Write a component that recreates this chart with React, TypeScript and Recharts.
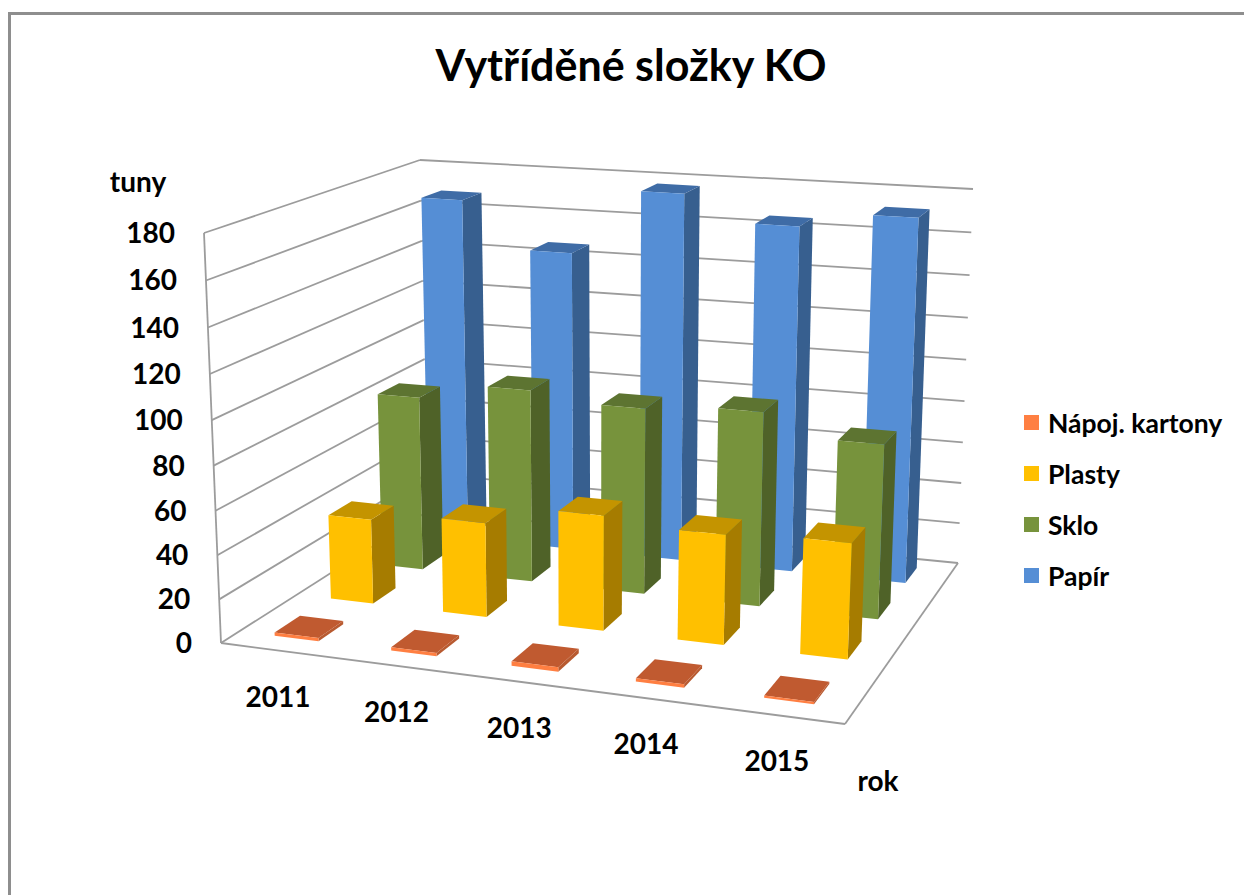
import { BarChart, Bar, XAxis, YAxis, Legend } from "recharts";

const YEARS = ["2011", "2012", "2013", "2014", "2015"];
const PAPIR = [168, 146, 177, 165, 172];
const SKLO = [84, 92, 88, 91, 81];
const PLASTY = [40, 44, 53, 50, 52];
const KARTONY = [1.5, 1.5, 2, 1.5, 1];
const Y_TICKS = [0, 20, 40, 60, 80, 100, 120, 140, 160, 180];
const Y_MAX = 180;

const FONT = "Lato, sans-serif";
const WIDTH = 1244;
const HEIGHT = 895;
const MARGIN = { top: 40, right: 40, bottom: 39, left: 39 };
const PLOT_X = 40;
const PLOT_W = WIDTH - 80;
const PLOT_H = HEIGHT - 80;
const BAR_W = (PLOT_W / YEARS.length) * 0.38;

type Pt = [number, number];

// corners of the floor and of the top plane as seen in the picture
const FLOOR: Pt[] = [[221, 643], [845, 724], [958, 563], [428, 511]];
const ROOF: Pt[] = [[204, 233], [862, 279], [973, 189], [420, 160]];

// maps the unit square onto a four sided shape
function quadMap(q: Pt[]) {
  const [a, b, c, d] = q;
  const den = (b[0] - c[0]) * (d[1] - c[1]) - (d[0] - c[0]) * (b[1] - c[1]);
  const sx = a[0] - b[0] + c[0] - d[0];
  const sy = a[1] - b[1] + c[1] - d[1];
  const g = (sx * (d[1] - c[1]) - (d[0] - c[0]) * sy) / den;
  const h = ((b[0] - c[0]) * sy - sx * (b[1] - c[1])) / den;
  return (u: number, v: number): Pt => {
    const w = g * u + h * v + 1;
    return [
      ((b[0] - a[0] + g * b[0]) * u + (d[0] - a[0] + h * d[0]) * v + a[0]) / w,
      ((b[1] - a[1] + g * b[1]) * u + (d[1] - a[1] + h * d[1]) * v + a[1]) / w,
    ];
  };
}

const floorAt = quadMap(FLOOR);
const roofAt = quadMap(ROOF);

// u along the years, d towards the back wall, h up the value axis (all 0..1)
function project(u: number, d: number, h: number): Pt {
  const uw = u + 0.04 * u * (1 - u);
  const hw = h - 0.048 * h * (1 - h);
  const p = floorAt(uw, d);
  const q = roofAt(uw, d);
  return [p[0] + (q[0] - p[0]) * hw, p[1] + (q[1] - p[1]) * hw];
}

const pts = (list: Pt[]) => list.map((p) => p.join(",")).join(" ");

function makeBar(d0: number, d1: number, side: string, top: string) {
  return (props: any) => {
    const { x, width, height, fill } = props;
    const u0 = (x - PLOT_X) / PLOT_W;
    const u1 = (x + width - PLOT_X) / PLOT_W;
    const h = height / PLOT_H;
    return (
      <g>
        <polygon
          points={pts([project(u1, d0, 0), project(u1, d1, 0), project(u1, d1, h), project(u1, d0, h)])}
          fill={side}
        />
        <polygon
          points={pts([project(u0, d0, h), project(u1, d0, h), project(u1, d1, h), project(u0, d1, h)])}
          fill={top}
        />
        <polygon
          points={pts([project(u0, d0, 0), project(u1, d0, 0), project(u1, d0, h), project(u0, d0, h)])}
          fill={fill}
        />
      </g>
    );
  };
}

function Walls() {
  const stroke = "#9c9c9c";
  const line = (p: Pt, q: Pt, key: string) => (
    <line key={key} x1={p[0]} y1={p[1]} x2={q[0]} y2={q[1]} stroke={stroke} strokeWidth={1.8} />
  );
  return (
    <g>
      {Y_TICKS.map((t) => {
        const h = t / Y_MAX;
        return (
          <g key={t}>
            {line(project(0, 0, h), project(0, 1, h), "l")}
            {line(project(0, 1, h), project(1, 1, h), "b")}
          </g>
        );
      })}
      {line(project(0, 0, 0), project(0, 0, 1), "edge")}
      {line(project(0, 0, 0), project(1, 0, 0), "front")}
      {line(project(1, 0, 0), project(1, 1, 0), "right")}
    </g>
  );
}

function YTick({ payload }: any) {
  const [px, py] = project(0, 0, payload.value / Y_MAX);
  return (
    <text x={px - 29} y={py + 10} textAnchor="end" fontFamily={FONT} fontWeight={700} fontSize={28} fill="#000">
      {payload.value}
    </text>
  );
}

function XTick({ payload, index }: any) {
  const [px, py] = project((index + 0.5) / YEARS.length, 0, 0);
  return (
    <text x={px - 1} y={py + 56} textAnchor="middle" fontFamily={FONT} fontWeight={700} fontSize={28} fill="#000">
      {payload.value}
    </text>
  );
}

function LegendBox({ payload }: any) {
  const items = [...(payload || [])].reverse();
  return (
    <div>
      {items.map((it: any) => (
        <div key={it.value} style={{ display: "flex", alignItems: "center", height: 51, fontFamily: FONT, fontWeight: 700, fontSize: 26.5, color: "#000", whiteSpace: "nowrap" }}>
          <span style={{ width: 15, height: 15, background: it.color, marginRight: 9 }} />
          {it.value}
        </div>
      ))}
    </div>
  );
}

export default function App() {
  const data = YEARS.map((year, i) => ({
    year,
    papir: PAPIR[i],
    sklo: SKLO[i],
    plasty: PLASTY[i],
    kartony: KARTONY[i],
  }));

  return (
    <div style={{ position: "absolute", left: 0, top: 0, width: WIDTH, height: HEIGHT, overflow: "hidden", background: "#fff" }}>
      <div style={{ position: "absolute", left: 8, top: 12, width: WIDTH + 50, height: HEIGHT + 50, border: "3px solid #8e8e8e" }} />
      <BarChart
        width={WIDTH}
        height={HEIGHT}
        data={data}
        margin={MARGIN}
        barSize={BAR_W}
        barGap={-BAR_W}
        style={{ position: "absolute", left: 0, top: 0 }}
      >
        <Walls />
        <XAxis dataKey="year" height={1} axisLine={false} tickLine={false} interval={0} tick={<XTick />} />
        <YAxis width={1} domain={[0, Y_MAX]} ticks={Y_TICKS} axisLine={false} tickLine={false} interval={0} tick={<YTick />} />
        <Legend content={<LegendBox />} itemSorter={null} layout="vertical" align="center" verticalAlign="middle" wrapperStyle={{ left: 1024, top: 397, width: 215, bottom: "auto", right: "auto" }} />
        <Bar dataKey="papir" name="Papír" fill="#558ed5" isAnimationActive={false} shape={makeBar(0.825, 0.935, "#375f8f", "#3f6ca6")} />
        <Bar dataKey="sklo" name="Sklo" fill="#77933c" isAnimationActive={false} shape={makeBar(0.575, 0.685, "#4f6228", "#5d7431")} />
        <Bar dataKey="plasty" name="Plasty" fill="#ffc000" isAnimationActive={false} shape={makeBar(0.325, 0.435, "#a67c00", "#c49400")} />
        <Bar dataKey="kartony" name="Nápoj. kartony" fill="#ff7f42" isAnimationActive={false} shape={makeBar(0.075, 0.185, "#b85a30", "#c05a30")} />
        <text x={631} y={81} textAnchor="middle" fontFamily={FONT} fontWeight={700} fontSize={43} fill="#000">
          Vytříděné složky KO
        </text>
        <text x={138} y={192} textAnchor="middle" fontFamily={FONT} fontWeight={700} fontSize={28} fill="#000">tuny</text>
        <text x={878} y={791} textAnchor="middle" fontFamily={FONT} fontWeight={700} fontSize={28} fill="#000">rok</text>
      </BarChart>
    </div>
  );
}
